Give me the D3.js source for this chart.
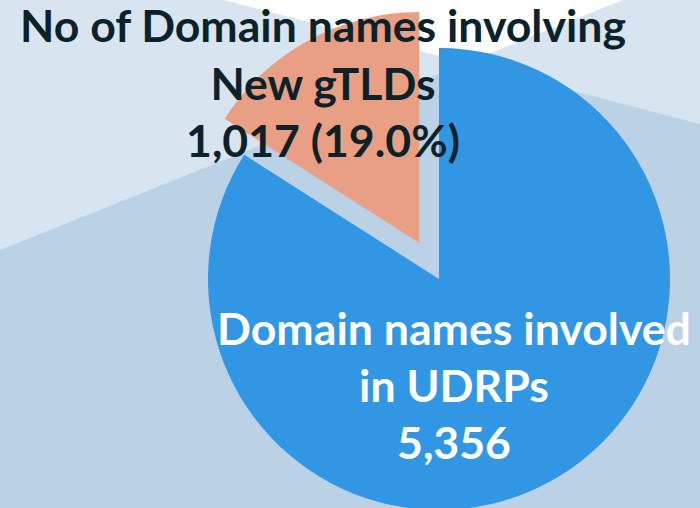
<!DOCTYPE html>
<html>
<head>
  <meta charset="utf-8">
  <title>UDRP domain names - new gTLDs</title>
  <script src="https://cdn.jsdelivr.net/npm/d3@7"></script>
  <style>
    body { margin: 0; }
    svg { display: block; }
  </style>
</head>
<body>
  <script>
    // data
    const categories = ["Domain names involved in UDRPs", "No of Domain names involving New gTLDs"];
    const values = [5356, 1017];
    const sliceColors = ["#3197e4", "#e99f83"];
    const labelLines = [
      ["Domain names involved", "in UDRPs", "5,356"],
      ["No of Domain names involving", "New gTLDs", "1,017 (19.0%)"]
    ];

    const w = 700;
    const h = 508;
    const cx = 439, cy = 279; // pie centre
    const radius = 231;
    const explode = 41; // how far the small slice is pulled out

    const svg = d3.select("body")
      .append("svg")
      .attr("width", w)
      .attr("height", h);

    // background shapes (two crossing diagonals)
    const bg = svg.append("g");
    bg.append("rect").attr("width", w).attr("height", h).attr("fill", "#bad1e6");
    const shapes = [
      { pts: [[0, 0], [223, 0], [465.7, 63.1], [0, 250]], fill: "#d8e5f1" },
      { pts: [[623, 0], [700, 0], [700, 124], [465.7, 63.1]], fill: "#d8e5f1" },
      { pts: [[223, 0], [623, 0], [465.7, 63.1]], fill: "#ffffff" }
    ];
    bg.selectAll("polygon")
      .data(shapes)
      .enter()
      .append("polygon")
      .attr("points", d => d.pts.map(p => p.join(",")).join(" "))
      .attr("fill", d => d.fill);

    // pie
    const pie = d3.pie().sort(null).value(d => d)(values);
    const arc = d3.arc().innerRadius(0).outerRadius(radius);

    svg.append("g")
      .attr("transform", "translate(" + cx + "," + cy + ")")
      .selectAll("path")
      .data(pie)
      .enter()
      .append("path")
      .attr("d", arc)
      .attr("fill", (d, i) => sliceColors[i])
      .attr("transform", function (d, i) {
        if (i === 0) return null;
        const mid = (d.startAngle + d.endAngle) / 2;
        return "translate(" + (Math.sin(mid) * explode) + "," + (-Math.cos(mid) * explode) + ")";
      });

    // labels: centre x, first baseline, line gap, target width of longest line
    const labelPos = [
      { x: 454, y: 345, gap: 57, width: 474, color: "#ffffff" },
      { x: 323, y: 42, gap: 57.5, width: 606, color: "#0c222a" }
    ];

    labelLines.forEach(function (lines, k) {
      const p = labelPos[k];
      const t = svg.append("text")
        .attr("text-anchor", "middle")
        .attr("font-family", "Lato, 'Open Sans', sans-serif")
        .attr("font-weight", "bold")
        .attr("font-size", 44)
        .attr("fill", p.color);
      t.selectAll("tspan")
        .data(lines)
        .enter()
        .append("tspan")
        .attr("x", p.x)
        .attr("y", (d, i) => p.y + i * p.gap)
        .text(d => d);
      // scale font so the longest line has the width seen in the picture
      const first = t.select("tspan").node().getComputedTextLength();
      t.attr("font-size", 44 * p.width / first);
    });
  </script>
</body>
</html>
